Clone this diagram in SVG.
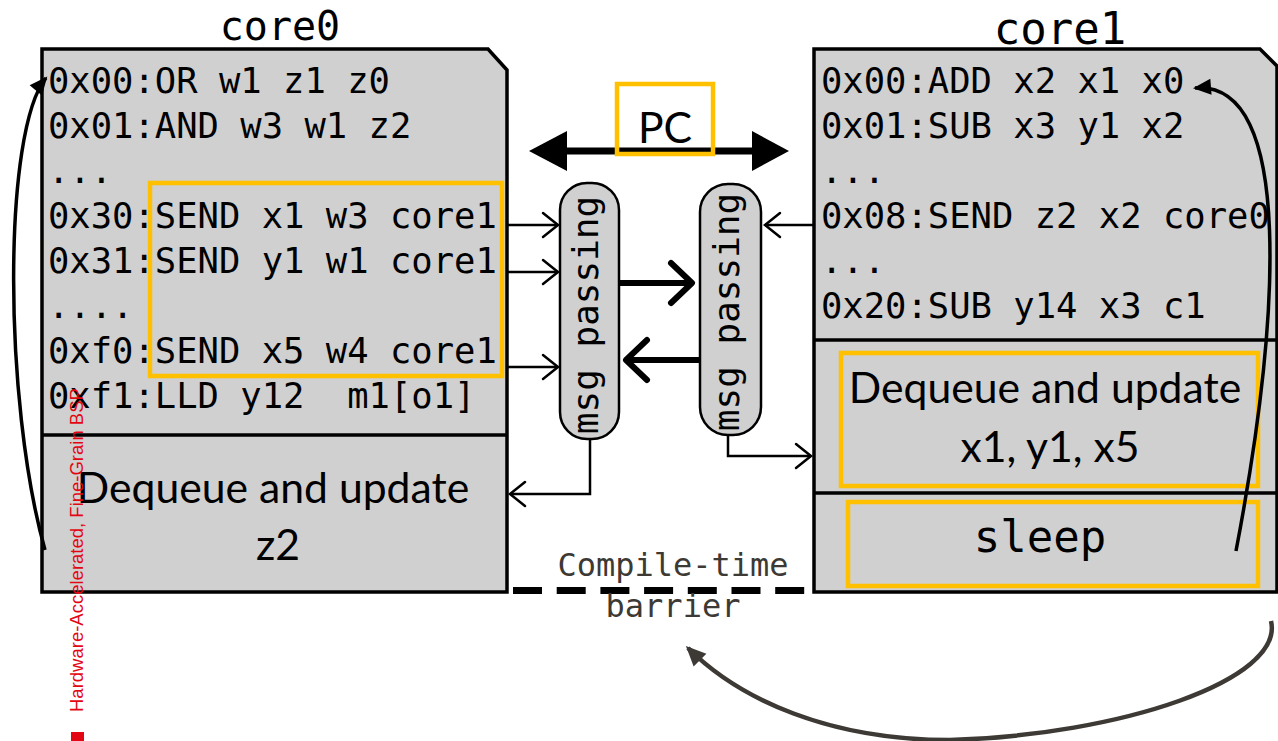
<svg xmlns="http://www.w3.org/2000/svg" width="1278" height="741" viewBox="0 0 1278 741">
<style>
.box{fill:#d0d0d0;stroke:#000;stroke-width:3.5}
.div{stroke:#000;stroke-width:3.5}
.hl{fill:none;stroke:#ffc000;stroke-width:4.5}
.code{font-family:"DejaVu Sans Mono",monospace;font-size:35.5px;fill:#000;white-space:pre}
.title{font-family:"DejaVu Sans Mono",monospace;fill:#000;text-anchor:middle}
.lbl{font-family:Lato,"Open Sans",sans-serif;font-size:42.7px;fill:#000;text-anchor:middle}
.pill{fill:#d0d0d0;stroke:#000;stroke-width:2.5}
.ptxt{font-family:"DejaVu Sans Mono",monospace;font-size:36px;fill:#000;text-anchor:middle}
.thin{fill:none;stroke:#000;stroke-width:2.5}
.thick{fill:none;stroke:#000;stroke-width:6}
.curve{fill:none;stroke:#000;stroke-width:3.5}
.gray{font-family:"DejaVu Sans Mono",monospace;font-size:32px;fill:#3d3935;text-anchor:middle}
</style>
<defs>
<marker id="chev" markerUnits="userSpaceOnUse" markerWidth="22" markerHeight="30" refX="17" refY="15" orient="auto" overflow="visible">
<path d="M2,3 L17,15 L2,27" fill="none" stroke="#000" stroke-width="2.5" stroke-linecap="round"/>
</marker>
<marker id="chevB" markerUnits="userSpaceOnUse" markerWidth="30" markerHeight="46" refX="24" refY="23" orient="auto" overflow="visible">
<path d="M3,3 L24,23 L3,43" fill="none" stroke="#000" stroke-width="6" stroke-linecap="round" stroke-linejoin="round"/>
</marker>
<marker id="tri" markerUnits="userSpaceOnUse" markerWidth="20" markerHeight="18" refX="16" refY="8" orient="auto" overflow="visible">
<path d="M0,0 L18,8 L0,16 Z" fill="#000"/>
</marker>
<marker id="triG" markerUnits="userSpaceOnUse" markerWidth="22" markerHeight="20" refX="17" refY="9" orient="auto" overflow="visible">
<path d="M0,0 L20,9 L0,18 Z" fill="#3d3935"/>
</marker>
</defs>
<rect width="1278" height="741" fill="#fff"/>

<g id="core0">
<text class="title" x="280" y="40" font-size="40">core0</text>
<path class="box" d="M42,49 H488 L507,70 V592 H42 Z"/>
<line class="div" x1="42" y1="435" x2="507" y2="435"/>
<text class="code" x="48" y="93">0x00:OR w1 z1 z0</text>
<text class="code" x="48" y="138">0x01:AND w3 w1 z2</text>
<text class="code" x="48" y="183">...</text>
<text class="code" x="48" y="228">0x30:SEND x1 w3 core1</text>
<text class="code" x="48" y="273">0x31:SEND y1 w1 core1</text>
<text class="code" x="48" y="318">....</text>
<text class="code" x="48" y="363">0xf0:SEND x5 w4 core1</text>
<text class="code" x="48" y="408" xml:space="preserve">0xf1:LLD y12  m1[o1]</text>
<rect class="hl" x="150" y="183" width="352" height="193"/>
<text class="lbl" x="273" y="503">Dequeue and update</text>
<text class="lbl" x="278" y="560">z2</text>
</g>

<g id="core1">
<text class="title" x="1060" y="44" font-size="44">core1</text>
<path class="box" d="M814,49 H1260 L1277,66 V592 H814 Z"/>
<line class="div" x1="814" y1="340" x2="1277" y2="340"/>
<line class="div" x1="814" y1="493" x2="1277" y2="493"/>
<text class="code" x="821" y="93">0x00:ADD x2 x1 x0</text>
<text class="code" x="821" y="138">0x01:SUB x3 y1 x2</text>
<text class="code" x="821" y="183">...</text>
<text class="code" x="821" y="228">0x08:SEND z2 x2 core0</text>
<text class="code" x="821" y="273">...</text>
<text class="code" x="821" y="318">0x20:SUB y14 x3 c1</text>
<rect class="hl" x="841" y="353" width="417" height="133"/>
<text class="lbl" x="1045" y="403">Dequeue and update</text>
<text class="lbl" x="1050" y="462">x1, y1, x5</text>
<rect class="hl" x="848" y="502" width="410" height="84"/>
<text class="title" x="1040" y="552" font-size="44">sleep</text>
</g>

<g id="pc">
<line x1="560" y1="151" x2="758" y2="151" stroke="#000" stroke-width="7"/>
<polygon points="529,151 567,131 567,171" fill="#000"/>
<polygon points="789,151 752,131 752,171" fill="#000"/>
<rect class="hl" x="617" y="84" width="96" height="70"/>
<text class="lbl" x="665" y="143" font-size="43">PC</text>
</g>

<g id="msg0">
<rect class="pill" x="560" y="183" width="59" height="256" rx="27"/>
<text class="ptxt" transform="translate(598,315) rotate(-90)">msg passing</text>
</g>

<g id="msg1">
<rect class="pill" x="700" y="184" width="61" height="251" rx="28"/>
<text class="ptxt" transform="translate(739,312) rotate(-90)">msg passing</text>
</g>

<g id="barrier">
<line x1="513" y1="590.5" x2="805" y2="590.5" stroke="#000" stroke-width="7" stroke-dasharray="29 14.7"/>
<text class="gray" x="673" y="576">Compile-time</text>
<text class="gray" x="673" y="617">barrier</text>
</g>

<g id="connectors">
<line class="thin" x1="507" y1="225" x2="558" y2="225" marker-end="url(#chev)"/>
<line class="thin" x1="507" y1="272" x2="558" y2="272" marker-end="url(#chev)"/>
<line class="thin" x1="507" y1="367" x2="558" y2="367" marker-end="url(#chev)"/>
<line class="thick" x1="619" y1="283" x2="692" y2="283" marker-end="url(#chevB)"/>
<line class="thick" x1="700" y1="360" x2="626" y2="360" marker-end="url(#chevB)"/>
<line class="thin" x1="814" y1="225" x2="765" y2="225" marker-end="url(#chev)"/>
<polyline class="thin" points="728,435 728,456 811,456" marker-end="url(#chev)"/>
<polyline class="thin" points="590,439 590,494 510,494" marker-end="url(#chev)"/>
<path class="curve" d="M45,550 C3,400 3,130 46,78" marker-end="url(#tri)"/>
<path class="curve" d="M1236,551 C1280,320 1295,80 1195,88" marker-end="url(#tri)"/>
<path d="M1271,621 C1285,680 1120,735 950,740 C830,740 740,700 688,648" fill="none" stroke="#3d3935" stroke-width="4.5" marker-end="url(#triG)"/>
</g>

<g id="footer">
<text transform="translate(83,712) rotate(-90)" font-family="'Liberation Sans',Arial,sans-serif" font-size="18.5" fill="#e30613">Hardware-Accelerated, Fine-Grain BSP</text>
<rect x="71" y="732" width="13" height="9" fill="#e30613"/>
</g>
</svg>
